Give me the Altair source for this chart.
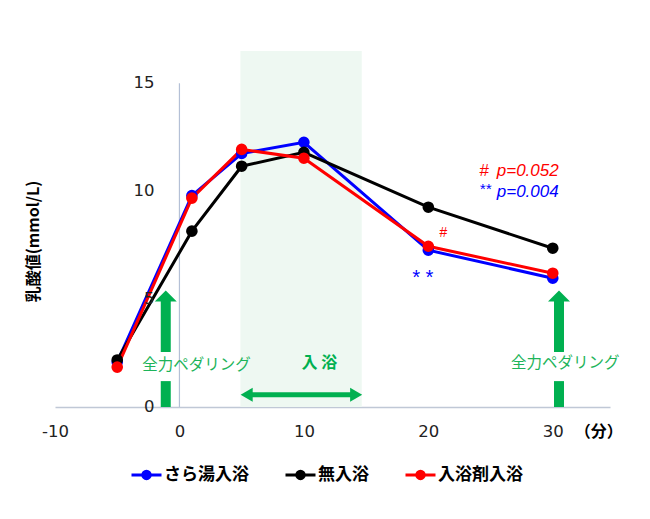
import altair as alt
import pandas as pd

# ---- data ----
series_names = ["さら湯入浴", "無入浴", "入浴剤入浴"]
series_colors = ["#0000ff", "#000000", "#ff0000"]
time_points = [-5, 1, 5, 10, 20, 30]
vals_sara = [2.08, 9.80, 11.75, 12.27, 7.27, 5.97]
vals_none = [2.18, 8.15, 11.16, 11.80, 9.26, 7.36]
vals_agent = [1.85, 9.68, 11.94, 11.53, 7.45, 6.20]
x_ticks = [-10, 0, 10, 20, 30]
y_ticks = [0, 5, 10, 15]

rows = []
for name, vals in zip(series_names, [vals_sara, vals_none, vals_agent]):
    for t, v in zip(time_points, vals):
        rows.append({"series": name, "t": t, "v": v})
df = pd.DataFrame(rows)

GREEN = "#00b050"
xs = alt.Scale(domain=[-10, 34.6], nice=False, zero=False)
ys = alt.Scale(domain=[0, 16.5], nice=False, zero=False)
one = pd.DataFrame({"k": [0]})


def X(v):
    return alt.XDatum(v, scale=xs, axis=None)


def Y(v):
    return alt.YDatum(v, scale=ys, axis=None)


def txt(text, x, y, **kw):
    return alt.Chart(one).mark_text(text=text, **kw).encode(x=X(x), y=Y(y))


# bathing period shading
shade = alt.Chart(one).mark_rect(color="#eef8f2").encode(
    x=X(4.9), x2=alt.X2Datum(14.65), y=Y(0), y2=alt.Y2Datum(16.5)
)

# vertical line at x = 0
vline = alt.Chart(one).mark_rule(color="#b4c0d6", strokeWidth=1.2).encode(
    x=X(0), y=Y(0), y2=alt.Y2Datum(15)
)

# y tick labels placed at x = 0
ylab = alt.Chart(pd.DataFrame({"yv": y_ticks})).mark_text(
    align="right", baseline="middle", dx=-25, fontSize=16.5, font="DejaVu Sans", color="#222222"
).encode(
    x=X(0),
    y=alt.Y("yv:Q", scale=ys, axis=None),
    text=alt.Text("yv:Q"),
)

legend_symbol = (
    "M-1,0L1,0"
    "M0.05,0A0.05,0.05,0,1,1,-0.05,0A0.05,0.05,0,1,1,0.05,0"
    "M0.15,0A0.15,0.15,0,1,1,-0.15,0A0.15,0.15,0,1,1,0.15,0"
    "M0.25,0A0.25,0.25,0,1,1,-0.25,0A0.25,0.25,0,1,1,0.25,0"
)

color_scale = alt.Scale(domain=series_names, range=series_colors)

lines = alt.Chart(df).mark_line(strokeWidth=3).encode(
    x=alt.X(
        "t:Q",
        scale=xs,
        axis=alt.Axis(
            values=x_ticks,
            title=None,
            ticks=False,
            grid=False,
            labelExpr="datum.value + ''",
            labelFontSize=16.5,
            labelFont="DejaVu Sans",
            labelColor="#222222",
            labelPadding=16,
            labelFlush=False,
            labelOverlap=False,
            domainColor="#c0c8d6",
            domainWidth=1.5,
        ),
    ),
    y=alt.Y(
        "v:Q",
        scale=ys,
        axis=alt.Axis(
            title="乳酸値(mmol/L)",
            labels=False,
            ticks=False,
            domain=False,
            grid=False,
            titleFont="Noto Sans CJK JP",
            titleFontSize=16,
            titleFontWeight="bold",
            titleColor="#000000",
            titleAngle=-90,
            titleX=-22,
            titleY=190,
            titleAlign="center",
            titleBaseline="middle",
        ),
    ),
    color=alt.Color(
        "series:N",
        scale=color_scale,
        sort=series_names,
        legend=alt.Legend(
            title=None,
            orient="none",
            direction="horizontal",
            legendX=75,
            legendY=407,
            symbolType=legend_symbol,
            symbolSize=900,
            symbolStrokeWidth=3,
            labelFont="Noto Sans CJK JP",
            labelFontSize=17,
            labelFontWeight="bold",
            labelColor="#000000",
            labelOffset=1,
            columnPadding=30,
            padding=0,
        ),
    ),
    detail="series:N",
)

points = alt.Chart(df).mark_point(filled=True, size=135, opacity=1, strokeWidth=0).encode(
    x=alt.X("t:Q", scale=xs, axis=None),
    y=alt.Y("v:Q", scale=ys, axis=None),
    color=alt.Color("series:N", scale=color_scale, legend=None),
)

# green up arrows (full-power pedaling)
up_head = "M-1,0.5L1,0.5L0,-0.5Z"
arrows = []
for ax in [-1.1, 30.5]:
    arrows.append(alt.Chart(one).mark_rule(color=GREEN, strokeWidth=10).encode(
        x=X(ax), y=Y(0), y2=alt.Y2Datum(1.2)))
    arrows.append(alt.Chart(one).mark_rule(color=GREEN, strokeWidth=10).encode(
        x=X(ax), y=Y(2.55), y2=alt.Y2Datum(4.95)))
    arrows.append(alt.Chart(one).mark_point(
        shape=up_head, filled=True, size=484, color=GREEN, opacity=1, strokeWidth=0
    ).encode(x=X(ax), y=Y(5.15)))

# horizontal double arrow (bathing)
arrows.append(alt.Chart(one).mark_rule(color=GREEN, strokeWidth=5).encode(
    x=X(5.4), x2=alt.X2Datum(14.2), y=Y(0.57)))
arrows.append(alt.Chart(one).mark_point(
    shape="M-0.86,0L0.86,-1L0.86,1Z", filled=True, size=196, color=GREEN, opacity=1, strokeWidth=0
).encode(x=X(5.4), y=Y(0.57)))
arrows.append(alt.Chart(one).mark_point(
    shape="M0.86,0L-0.86,-1L-0.86,1Z", filled=True, size=196, color=GREEN, opacity=1, strokeWidth=0
).encode(x=X(14.2), y=Y(0.57)))

texts = [
    txt("全力ペダリング", 1.37, 1.95, font="Noto Sans CJK JP", fontSize=15.5, color="#1db45a"),
    txt("全力ペダリング", 31.0, 2.05, font="Noto Sans CJK JP", fontSize=15.5, color="#1db45a"),
    txt("入 浴", 11.25, 2.05, font="Noto Sans CJK JP", fontSize=16, fontWeight="bold", color=GREEN),
    txt("（分）", 33.7, -1.15, font="Noto Sans CJK JP", fontSize=16, fontWeight="bold", color="#000000"),
    txt("#", 24.1, 10.95, align="left", font="Liberation Sans", fontSize=17, fontStyle="italic", color="#ff0000"),
    txt("p=0.052", 25.5, 10.95, align="left", font="Liberation Sans", fontSize=17, fontStyle="italic", color="#ff0000"),
    txt("**", 24.1, 10.1, align="left", font="Liberation Sans", fontSize=15, fontStyle="italic", color="#0000ff"),
    txt("p=0.004", 25.5, 9.95, align="left", font="Liberation Sans", fontSize=17, fontStyle="italic", color="#0000ff"),
    txt("#", 21.2, 8.05, font="Liberation Sans", fontSize=14, fontStyle="italic", color="#ff0000"),
    txt("* *", 19.5, 6.0, font="Liberation Sans", fontSize=20, fontStyle="italic", color="#0000ff"),
]

chart = alt.layer(shade, vline, lines, points, ylab, *arrows, *texts).resolve_axis(
    x="independent", y="independent"
).properties(
    width=555,
    height=356,
    autosize=alt.AutoSizeParams(type="none"),
    padding={"left": 55, "top": 51, "right": 40, "bottom": 112},
    background="white",
).configure_view(stroke=None)

chart.save("out.html", embed_options={"renderer": "svg", "actions": False})
